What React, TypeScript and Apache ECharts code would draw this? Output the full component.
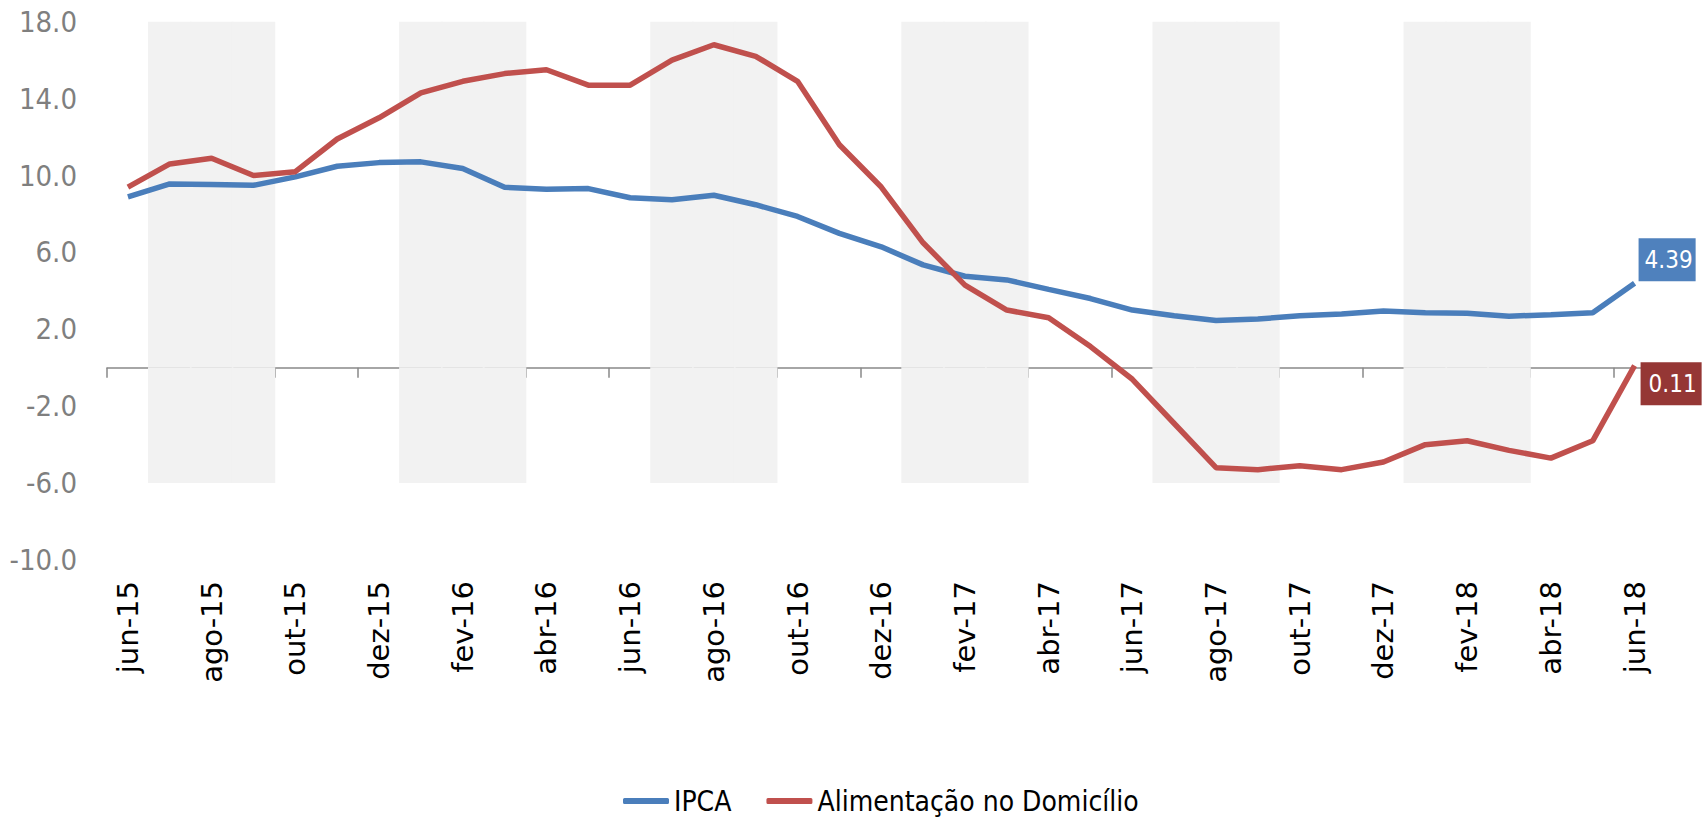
import React, { useEffect, useRef } from 'react';
import * as echarts from 'echarts';

const categories = [
  'jun-15', 'jul-15', 'ago-15', 'set-15', 'out-15', 'nov-15', 'dez-15',
  'jan-16', 'fev-16', 'mar-16', 'abr-16', 'mai-16', 'jun-16', 'jul-16', 'ago-16', 'set-16', 'out-16', 'nov-16', 'dez-16',
  'jan-17', 'fev-17', 'mar-17', 'abr-17', 'mai-17', 'jun-17', 'jul-17', 'ago-17', 'set-17', 'out-17', 'nov-17', 'dez-17',
  'jan-18', 'fev-18', 'mar-18', 'abr-18', 'mai-18', 'jun-18',
];

const ipca = [
  8.89, 9.56, 9.53, 9.49, 9.93, 10.48, 10.67,
  10.71, 10.36, 9.39, 9.28, 9.32, 8.84, 8.74, 8.97, 8.48, 7.87, 6.99, 6.29,
  5.35, 4.76, 4.57, 4.08, 3.6, 3.0, 2.71, 2.46, 2.54, 2.7, 2.8, 2.95,
  2.86, 2.84, 2.68, 2.76, 2.86, 4.39,
];

const alimentacao = [
  9.4, 10.6, 10.9, 10.0, 10.2, 11.9, 13.0,
  14.3, 14.9, 15.3, 15.5, 14.7, 14.7, 16.0, 16.8, 16.2, 14.9, 11.6, 9.4,
  6.5, 4.3, 3.0, 2.6, 1.1, -0.6, -2.9, -5.2, -5.3, -5.1, -5.3, -4.9,
  -4.0, -3.8, -4.3, -4.7, -3.8, 0.11,
];

// shaded quarters (jul-set, jan-mar)
const bandMonths = [
  'jul-15', 'ago-15', 'set-15', 'jan-16', 'fev-16', 'mar-16',
  'jul-16', 'ago-16', 'set-16', 'jan-17', 'fev-17', 'mar-17',
  'jul-17', 'ago-17', 'set-17', 'jan-18', 'fev-18', 'mar-18',
];
const bandTop = 18;
const bandBottom = -6;

const yTickLabels = ['-10.0', '-6.0', '-2.0', '2.0', '6.0', '10.0', '14.0', '18.0'];

const COND = "'DejaVu Sans Condensed', 'DejaVu Sans', sans-serif";
const BAND = '#f2f2f2';

export default function App() {
  const ref = useRef<HTMLDivElement>(null);

  useEffect(() => {
    const chart = echarts.init(ref.current!, null, { renderer: 'svg' });
    const upper = categories.map((c) => (bandMonths.includes(c) ? bandTop : null));
    const lower = categories.map((c) => (bandMonths.includes(c) ? bandBottom : null));

    const option = {
      animation: false,
      grid: { left: 107, right: 50.5, top: 21.7, bottom: 258, containLabel: false },
      legend: {
        data: ['IPCA', 'Alimentação no Domicílio'],
        left: 618,
        top: 782,
        itemWidth: 46,
        itemHeight: 6,
        itemGap: 35,
        icon: 'roundRect',
        textStyle: { fontFamily: COND, fontSize: 28, color: '#000', lineHeight: 28 },
      },
      xAxis: [
        {
          type: 'category',
          data: categories,
          position: 'bottom',
          boundaryGap: true,
          axisLine: { show: true, onZero: true, lineStyle: { color: '#898989', width: 1.5 } },
          axisTick: { show: true, interval: 1, length: 10, lineStyle: { color: '#898989', width: 1.5 } },
          axisLabel: { show: false },
          splitLine: { show: false },
        },
        {
          type: 'category',
          data: categories,
          position: 'bottom',
          boundaryGap: true,
          axisLine: { show: false, onZero: false },
          axisTick: { show: false },
          axisLabel: {
            show: true,
            interval: 1,
            rotate: 90,
            margin: 21,
            color: '#000',
            fontFamily: "'DejaVu Sans', sans-serif",
            fontSize: 29,
          },
          splitLine: { show: false },
        },
      ],
      yAxis: {
        type: 'value',
        min: -10,
        max: 18,
        interval: 2,
        axisLine: { show: false },
        axisTick: { show: false },
        splitLine: { show: false },
        axisLabel: {
          margin: 30,
          color: '#7f7f7f',
          fontFamily: COND,
          fontSize: 29,
          formatter: (v: number) => {
            const s = v.toFixed(1);
            return yTickLabels.includes(s) ? s : '';
          },
        },
      },
      series: [
        {
          name: 'band',
          type: 'bar',
          stack: 'band',
          data: upper,
          barWidth: '104%',
          itemStyle: { color: BAND },
          silent: true,
          z: 1,
        },
        {
          name: 'band2',
          type: 'bar',
          stack: 'band',
          data: lower,
          barWidth: '104%',
          itemStyle: { color: BAND },
          silent: true,
          z: 1,
        },
        {
          name: 'IPCA',
          type: 'line',
          data: ipca,
          showSymbol: false,
          symbol: 'none',
          lineStyle: { color: '#4a7ebb', width: 5.5 },
          itemStyle: { color: '#4a7ebb' },
          z: 3,
          endLabel: {
            show: true,
            formatter: (p: any) => Number(p.value).toFixed(2),
            distance: 4,
            offset: [0, -23.5],
            backgroundColor: '#4f81bd',
            color: '#fff',
            fontFamily: COND,
            fontSize: 24,
            lineHeight: 24,
            padding: [9.5, 3, 9.5, 6],
          },
        },
        {
          name: 'Alimentação no Domicílio',
          type: 'line',
          data: alimentacao,
          showSymbol: false,
          symbol: 'none',
          lineStyle: { color: '#c0504d', width: 5.5 },
          itemStyle: { color: '#c0504d' },
          z: 3,
          endLabel: {
            show: true,
            formatter: (p: any) => Number(p.value).toFixed(2),
            distance: 6,
            offset: [0, 18],
            backgroundColor: '#953735',
            color: '#fff',
            fontFamily: COND,
            fontSize: 24,
            lineHeight: 24,
            padding: [9.5, 5, 9.5, 8],
          },
        },
      ],
    };

    chart.setOption(option as any);
    return () => chart.dispose();
  }, []);

  return (
    <div
      ref={ref}
      style={{ position: 'absolute', left: 0, top: 0, width: 1706, height: 818 }}
    />
  );
}
